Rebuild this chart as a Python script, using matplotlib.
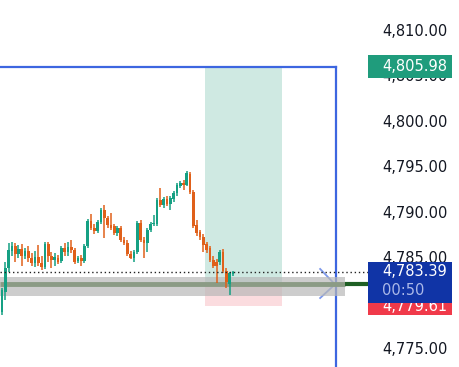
import matplotlib
matplotlib.use('Agg')
import matplotlib.pyplot as plt
import matplotlib.transforms as mtransforms
from matplotlib.patches import Rectangle
import numpy as np

# 1-min candles
opens = [4778.96, 4781.16, 4783.80, 4785.67, 4786.23, 4785.34, 4785.90, 4785.12, 4785.67, 4784.90,
         4784.35, 4785.01, 4784.35, 4783.91, 4786.45, 4785.12, 4784.68, 4784.90, 4784.57, 4786.01,
         4785.56, 4786.12, 4785.78, 4784.57, 4784.90, 4784.57, 4786.23, 4788.98, 4788.21, 4787.88,
         4788.87, 4790.19, 4789.31, 4788.54, 4788.43, 4787.66, 4788.21, 4786.89, 4786.56, 4785.34,
         4784.90, 4785.56, 4788.76, 4786.89, 4786.56, 4787.99, 4788.65, 4788.65, 4791.29, 4790.74,
         4791.40, 4790.85, 4791.40, 4792.06, 4792.83, 4793.16, 4792.94, 4794.15, 4792.17, 4788.54,
         4787.77, 4787.22, 4786.45, 4786.01, 4784.68, 4784.46, 4784.46, 4785.56, 4783.47, 4782.04,
         4783.14]
highs = [4781.60, 4784.46, 4786.56, 4786.67, 4786.56, 4786.34, 4786.45, 4786.01, 4786.23, 4785.45,
         4785.67, 4786.34, 4785.12, 4786.67, 4786.67, 4785.56, 4785.45, 4785.23, 4786.23, 4786.56,
         4786.67, 4786.89, 4786.01, 4785.12, 4785.23, 4786.45, 4789.20, 4789.75, 4788.65, 4789.09,
         4790.41, 4790.74, 4789.53, 4789.86, 4788.65, 4788.43, 4788.43, 4787.22, 4786.89, 4785.67,
         4785.78, 4788.98, 4789.09, 4787.22, 4788.21, 4788.87, 4789.64, 4791.51, 4792.61, 4791.62,
         4791.73, 4791.73, 4792.28, 4793.16, 4793.38, 4793.49, 4794.48, 4794.37, 4792.39, 4789.09,
         4787.99, 4787.55, 4786.67, 4786.23, 4785.12, 4784.79, 4785.78, 4785.90, 4783.80, 4783.36,
         4783.47]
lows = [4778.63, 4780.28, 4783.36, 4785.12, 4784.46, 4784.90, 4784.02, 4784.79, 4784.46, 4784.02,
        4783.91, 4784.02, 4783.58, 4783.69, 4784.46, 4783.80, 4784.02, 4784.24, 4784.35, 4785.12,
        4785.12, 4785.45, 4784.24, 4784.35, 4784.02, 4784.35, 4786.01, 4787.99, 4787.55, 4787.66,
        4788.65, 4787.11, 4788.21, 4787.99, 4787.44, 4787.33, 4786.67, 4786.34, 4785.12, 4784.79,
        4784.46, 4785.34, 4786.67, 4784.90, 4785.56, 4787.77, 4788.43, 4788.43, 4790.52, 4790.41,
        4790.63, 4790.19, 4791.07, 4791.73, 4792.61, 4792.39, 4792.83, 4791.95, 4788.21, 4787.33,
        4786.89, 4785.56, 4785.45, 4784.46, 4783.80, 4782.15, 4784.13, 4783.25, 4781.60, 4780.83,
        4782.92]
closes = [4781.38, 4783.80, 4785.78, 4786.23, 4785.34, 4785.90, 4785.12, 4785.67, 4784.90, 4784.35,
          4785.01, 4784.35, 4783.91, 4786.45, 4785.12, 4784.68, 4785.01, 4784.46, 4786.01, 4785.56,
          4786.12, 4785.78, 4784.46, 4784.90, 4784.57, 4786.23, 4788.98, 4788.21, 4787.88, 4788.87,
          4790.19, 4789.31, 4788.54, 4788.21, 4787.66, 4788.21, 4786.89, 4786.56, 4785.34, 4784.90,
          4785.56, 4788.76, 4786.89, 4786.56, 4787.99, 4788.65, 4788.76, 4791.29, 4790.74, 4791.40,
          4790.85, 4791.51, 4792.06, 4792.94, 4793.16, 4792.94, 4794.26, 4792.17, 4788.43, 4787.66,
          4787.22, 4786.34, 4785.78, 4784.68, 4784.02, 4784.02, 4785.56, 4783.47, 4782.26, 4783.25,
          4783.39]

last_price = 4783.39
target_price = 4805.98
entry_price = 4782.0
stop_price = 4779.61
band_top = 4782.8
band_bottom = 4780.7
countdown = '00:50'
y_ticks = [4775, 4780, 4785, 4790, 4795, 4800, 4805, 4810]

UP = '#15a083'
DOWN = '#e0601a'

fig = plt.figure(figsize=(4.59, 3.67), dpi=100)
ax = fig.add_axes([0, 0, 368 / 459, 1])
ax.set_xlim(-0.6, 110.9)
ax.set_ylim(4772.91, 4813.30)

o = np.array(opens)
c = np.array(closes)
idx = np.arange(len(o))
cols = np.where(c >= o, UP, DOWN)
body_lo = np.minimum(o, c)
body_h = np.maximum(np.abs(c - o), 0.1)

# long / short position tool zones
ax.add_patch(Rectangle((61.5, entry_price), 23.3, target_price - entry_price,
                       color='#cfe9e2', lw=0, zorder=1))
ax.add_patch(Rectangle((61.5, stop_price), 23.3, entry_price - stop_price,
                       color='#fbdcdf', lw=0, zorder=1))

# blue box (top + right edge) and chevron
ax.plot([-0.6, 101.2], [target_price, target_price], color='#3d66e0', lw=1.6, zorder=1.5)
ax.plot([101.2, 101.2], [target_price, 4772.0], color='#3d66e0', lw=1.6, zorder=1.5)
ax.plot([96.4, 100.9, 96.4], [4783.7, entry_price, 4780.5], color='#5b7ee5',
        lw=1.3, alpha=0.8, zorder=1.5)

# horizontal band + level line
ax.add_patch(Rectangle((-0.6, band_bottom), 104.5, band_top - band_bottom,
                       color='#b8b8b8', alpha=0.7, lw=0, zorder=2))
ax.plot([-0.6, 103.9], [entry_price, entry_price], color='#8b9b85', lw=3.5,
        zorder=2.5, solid_capstyle='butt')
ax.plot([103.9, 110.9], [entry_price, entry_price], color='#1e5f24', lw=3,
        zorder=2.5, solid_capstyle='butt')

# candles
ax.vlines(idx, lows, highs, color=cols, lw=1.1, zorder=3)
ax.bar(idx, body_h, bottom=body_lo, width=0.82, color=cols, lw=0, zorder=3)

# last price dotted line
ax.axhline(last_price, color='#222222', lw=1, ls=(0, (1, 2)), zorder=5)

for s in ax.spines.values():
    s.set_visible(False)
ax.set_xticks([])
ax.yaxis.tick_right()
ax.set_yticks(y_ticks)
ax.set_yticklabels(['{:,.2f}'.format(v) for v in y_ticks])
ax.tick_params(axis='y', length=0, pad=10, labelsize=10.5, labelcolor='#131722')

# price labels on the scale
trans = mtransforms.blended_transform_factory(fig.transFigure, ax.transData)
x0 = 368 / 459
w = 84 / 459
tx = 382 / 459
fig.add_artist(Rectangle((x0, target_price - 1.3), w, 2.55, transform=trans,
                         color='#1f9c7c', lw=0, zorder=2))
fig.text(tx, target_price, '{:,.2f}'.format(target_price), transform=trans,
         color='white', fontsize=10.5, va='center', ha='left', zorder=3)

fig.add_artist(Rectangle((x0, stop_price - 1.0), w, 2.2, transform=trans,
                         color='#f03a4a', lw=0, zorder=2))
fig.text(tx, stop_price - 0.05, '{:,.2f}'.format(stop_price), transform=trans,
         color='white', fontsize=10.5, va='center', ha='left', zorder=3)

fig.add_artist(Rectangle((x0, last_price - 3.44), w, 4.5, transform=trans,
                         color='#1034a6', lw=0, zorder=4))
fig.text(tx, last_price + 0.05, '{:,.2f}'.format(last_price), transform=trans,
         color='white', fontsize=10.5, va='center', ha='left', zorder=5)
fig.text(tx, last_price - 2.1, countdown, transform=trans,
         color='#aab8e8', fontsize=10.5, va='center', ha='left', zorder=5)

fig.savefig('out.png', dpi=100)
